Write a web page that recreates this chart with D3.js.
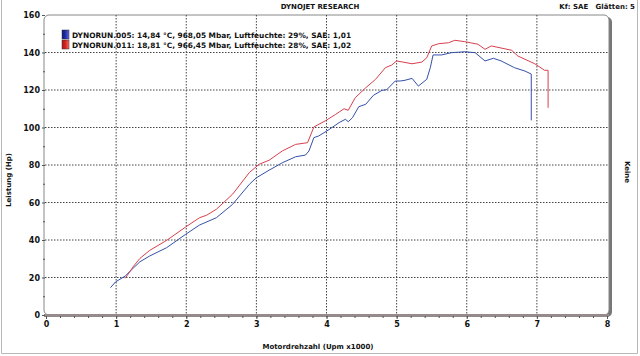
<!DOCTYPE html>
<html><head><meta charset="utf-8">
<script src="https://cdn.jsdelivr.net/npm/d3@7"></script>
<style>
html,body{margin:0;padding:0;background:#fff;}
svg{display:block;}
text{font-family:"DejaVu Sans",Verdana,sans-serif;font-weight:bold;fill:#111;}
</style></head>
<body><svg id="c" width="640" height="356"></svg>
<script>
// ---- data ----
const xTickLabels = [0,1,2,3,4,5,6,7,8];
const yTickLabels = [0,20,40,60,80,100,120,140,160];
const seriesNames = [
  "DYNORUN.005: 14,84 °C, 968,05 Mbar, Luftfeuchte: 29%, SAE: 1,01",
  "DYNORUN.011: 18,81 °C, 966,45 Mbar, Luftfeuchte: 28%, SAE: 1,02"
];
const blueRpm = [0.92,0.99,1.13,1.25,1.34,1.48,1.72,1.99,2.19,2.43,2.66,2.90,3.00,3.18,3.37,3.56,3.70,3.75,3.82,3.89,4.04,4.18,4.27,4.31,4.37,4.46,4.56,4.67,4.79,4.86,4.98,5.05,5.12,5.22,5.31,5.43,5.48,5.52,5.64,5.78,5.97,6.12,6.26,6.38,6.49,6.68,6.83,6.92,6.92];
const blueHp  = [14.6,17.6,20.8,25.2,28.4,31.5,35.9,43.0,48.0,51.9,59.0,69.7,73.2,77.2,81.2,84.4,85.3,87.5,94.6,95.5,99.0,102.6,104.4,103.1,105.2,111.1,112.4,117.2,119.8,120.2,124.8,124.8,125.2,126.2,122.1,125.7,131.9,138.7,138.7,139.9,140.4,139.9,135.5,136.9,135.5,131.9,130.1,128.5,103.8];
const redRpm = [1.13,1.25,1.34,1.48,1.72,1.99,2.19,2.29,2.43,2.66,2.90,3.04,3.18,3.37,3.56,3.73,3.82,3.98,4.13,4.25,4.31,4.41,4.56,4.70,4.84,4.93,5.00,5.22,5.36,5.43,5.50,5.60,5.74,5.83,5.97,6.16,6.26,6.35,6.64,6.73,6.97,7.11,7.16,7.16];
const redHp  = [19.6,26.1,30.2,34.5,39.8,46.9,51.9,53.2,56.4,64.4,76.0,80.4,82.5,87.5,91.0,91.9,100.3,103.5,107.0,110.0,109.2,115.9,121.2,125.7,131.9,133.3,135.5,134.0,134.9,137.2,143.5,144.7,145.2,146.5,145.8,144.4,141.7,143.5,141.2,138.1,134.0,130.5,130.5,110.5];
const seriesColors = ["#3450aa","#d8404e"];

// ---- chart ----
const svg = d3.select("#c");
const x = d3.scaleLinear().domain([0,8]).range([46,607]);
const y = d3.scaleLinear().domain([0,160]).range([315,15]);

// outer border
svg.append("path").attr("d","M1.5,0 V353.5 H637.5 V0").attr("fill","none").attr("stroke","#b8b8b8").attr("stroke-width",1);

// frame shadow + frame
svg.append("rect").attr("x",46).attr("y",17).attr("width",566).attr("height",300).attr("rx",5).attr("fill","#777");
svg.append("rect").attr("x",44).attr("y",15).attr("width",565).attr("height",300).attr("rx",5).attr("fill","#fff").attr("stroke","#888").attr("stroke-width",1);

// grid
const grid = svg.append("g");
grid.selectAll("line.v").data(xTickLabels.filter(d=>d>0&&d<8)).join("line")
  .attr("x1",d=>x(d)).attr("x2",d=>x(d)).attr("y1",y(160)).attr("y2",y(0))
  .attr("stroke","#444").attr("stroke-width",1).attr("stroke-dasharray","1.5,1.5");
grid.selectAll("line.h").data(yTickLabels.filter(d=>d>0&&d<160)).join("line")
  .attr("x1",45).attr("x2",608).attr("y1",d=>y(d)).attr("y2",d=>y(d))
  .attr("stroke","#444").attr("stroke-width",1).attr("stroke-dasharray","1.5,1.5");

// bottom axis band
svg.append("line").attr("x1",44).attr("x2",609).attr("y1",315.5).attr("y2",315.5).attr("stroke","#958a8c").attr("stroke-width",3);
const xAxis = d3.axisBottom(x).tickValues(xTickLabels).tickSize(3).tickPadding(2).tickFormat(d3.format("d"));
const gx = svg.append("g").attr("transform","translate(0,316)").call(xAxis);
gx.select(".domain").remove();
gx.selectAll(".tick line").attr("stroke","#555");
gx.selectAll(".tick text").style("font-size","8px").style("font-family","DejaVu Sans").style("font-weight","bold").attr("fill","#111");
const minorX = d3.range(0,8.01,0.2);
const gxm = svg.append("g").attr("transform","translate(0,316)").call(d3.axisBottom(x).tickValues(minorX).tickSize(2).tickFormat(""));
gxm.select(".domain").remove();
gxm.selectAll(".tick line").attr("stroke","#555");

// left axis
const yAxis = d3.axisLeft(y).tickValues(yTickLabels).tickSize(3).tickPadding(2).tickFormat(d3.format("d"));
const gy = svg.append("g").attr("transform","translate(45,0)").call(yAxis);
gy.select(".domain").remove();
gy.selectAll(".tick line").attr("stroke","#555");
gy.selectAll(".tick text").style("font-size","8px").style("font-family","DejaVu Sans").style("font-weight","bold").attr("fill","#111");
const gym = svg.append("g").attr("transform","translate(45,0)").call(d3.axisLeft(y).tickValues(d3.range(10,160,20)).tickSize(2).tickFormat(""));
gym.select(".domain").remove();
gym.selectAll(".tick line").attr("stroke","#555");

// lines
const line = d3.line().x(d=>x(d[0])).y(d=>y(d[1])).curve(d3.curveMonotoneX);
const lineStraight = d3.line().x(d=>x(d[0])).y(d=>y(d[1]));
const series = [d3.zip(blueRpm,blueHp), d3.zip(redRpm,redHp)];
svg.append("g").selectAll("path").data(series).join("path")
  .attr("d",d=>lineStraight(d)).attr("fill","none").attr("stroke",(d,i)=>seriesColors[i]).attr("stroke-width",1).attr("stroke-linejoin","round");

// legend
const defs = svg.append("defs");
["#1c2a9a","#d02020"].forEach((c,i)=>{
  const g = defs.append("linearGradient").attr("id","lg"+i).attr("x1","0").attr("x2","1");
  g.append("stop").attr("offset","0").attr("stop-color",i?"#b01818":"#101a80");
  g.append("stop").attr("offset","0.45").attr("stop-color",c);
  g.append("stop").attr("offset","1").attr("stop-color",i?"#ff6a5a":"#5a6af0");
});
const lg = svg.append("g").selectAll("g").data(seriesNames).join("g").attr("transform",(d,i)=>`translate(62,${30+i*10})`);
lg.append("rect").attr("width",7).attr("height",9).attr("fill",(d,i)=>`url(#lg${i})`).attr("stroke","#333").attr("stroke-width",0.5);
lg.append("text").attr("x",10).attr("y",7.5).style("font-size","7.4px").text(d=>d);

// titles
svg.append("text").attr("x",320).attr("y",9).attr("text-anchor","middle").style("font-size","7px").text("DYNOJET RESEARCH");
svg.append("text").attr("x",635).attr("y",9).attr("text-anchor","end").style("font-size","7px").attr("xml:space","preserve").text("Kf: SAE   Glätten: 5");
svg.append("text").attr("x",318).attr("y",349).attr("text-anchor","middle").style("font-size","7px").text("Motordrehzahl (Upm x1000)");
svg.append("text").attr("transform","translate(11,180) rotate(-90)").attr("text-anchor","middle").style("font-size","7px").text("Leistung (Hp)");
svg.append("text").attr("transform","translate(625,172) rotate(90)").attr("text-anchor","middle").style("font-size","7px").text("Keine");
</script></body></html>
